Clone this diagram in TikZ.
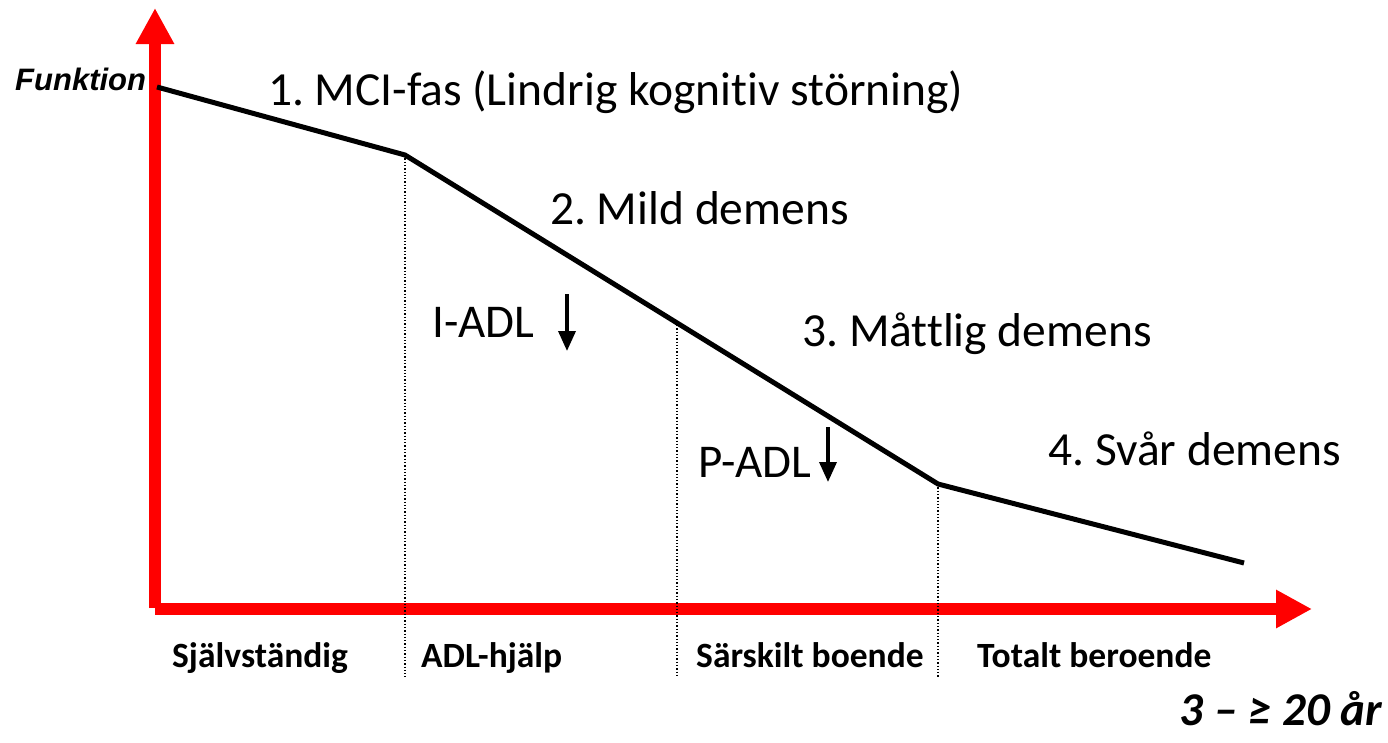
\documentclass[tikz,border=0pt]{standalone}
\usepackage{fontspec}
\setmainfont{Carlito}[Ligatures=NoCommon]
\newfontfamily\arialfont{Liberation Sans}
\usetikzlibrary{arrows.meta}
\frenchspacing

\tikzset{
  axis/.style={draw=red, line width=12.5pt,
    -{Triangle[width=36pt,length=36pt]}},
  curve/.style={draw=black, line width=5pt, line join=miter},
  divider/.style={draw=black, line width=1.3pt, dotted},
  stage/.style={anchor=base west, inner sep=0pt,
    font=\fontsize{47.5}{50}\selectfont},
  adl/.style={anchor=base west, inner sep=0pt,
    font=\fontsize{47}{50}\selectfont},
  care/.style={anchor=base west, inner sep=0pt,
    font=\bfseries\fontsize{35.5}{38}\selectfont},
  drop/.style={draw=black, line width=3.5pt,
    -{Triangle[width=17pt,length=20pt]}},
}

\begin{document}
\begin{tikzpicture}[x=1pt, y=-1pt]
  \useasboundingbox (0,0) rectangle (1388,742);

  % axes
  \coordinate (origin) at (155,608);
  \coordinate (ytip) at (155,8);
  \coordinate (xstart) at (155,609);
  \coordinate (xtip) at (1312,609);
  \draw[axis] (origin) -- (ytip);
  \draw[axis] (xstart) -- (xtip);

  % function curve and its knees
  \coordinate (p0) at (157,87);
  \coordinate (p1) at (405,155);
  \coordinate (p2) at (677,325);
  \coordinate (p3) at (938,484);
  \coordinate (p4) at (1244,563);

  % phase dividers
  \coordinate (d1) at (405,677);
  \coordinate (d2) at (677,677);
  \coordinate (d3) at (938,677);
  \draw[divider] (p1) -- (d1);
  \draw[divider] (p2) -- (d2);
  \draw[divider] (p3) -- (d3);

  \draw[curve] (p0) -- (p1) -- (p3) -- (p4);

  % axis labels
  \node[anchor=base west, inner sep=0pt,
        font=\arialfont\bfseries\itshape\fontsize{31}{34}\selectfont]
        (funk) at (15,90) {Funktion};
  \node[anchor=base east, inner sep=0pt,
        font=\bfseries\itshape\fontsize{47}{50}\selectfont]
        (years) at (1382,725) {3 – ≥ 20 år};

  % stages
  \node[stage] (s1) at (268,105) {1. MCI-fas (Lindrig kognitiv störning)};
  \node[stage] (s2) at (550,224) {2. Mild demens};
  \node[stage] (s3) at (802,346) {3. Måttlig demens};
  \node[stage] (s4) at (1048,465) {4. Svår demens};

  % activities of daily living
  \node[adl] (iadl) at (432,337) {I-ADL};
  \node[adl] (padl) at (698,477) {P-ADL};
  \coordinate (ia0) at (567,294);
  \coordinate (ia1) at (567,351);
  \coordinate (pa0) at (828,427);
  \coordinate (pa1) at (828,482);
  \draw[drop] (ia0) -- (ia1);
  \draw[drop] (pa0) -- (pa1);

  % care levels
  \node[care] (c1) at (172,667) {Självständig};
  \node[care] (c2) at (421,667) {ADL-hjälp};
  \node[care] (c3) at (696,667) {Särskilt boende};
  \node[care] (c4) at (977,667) {Totalt beroende};
\end{tikzpicture}
\end{document}
